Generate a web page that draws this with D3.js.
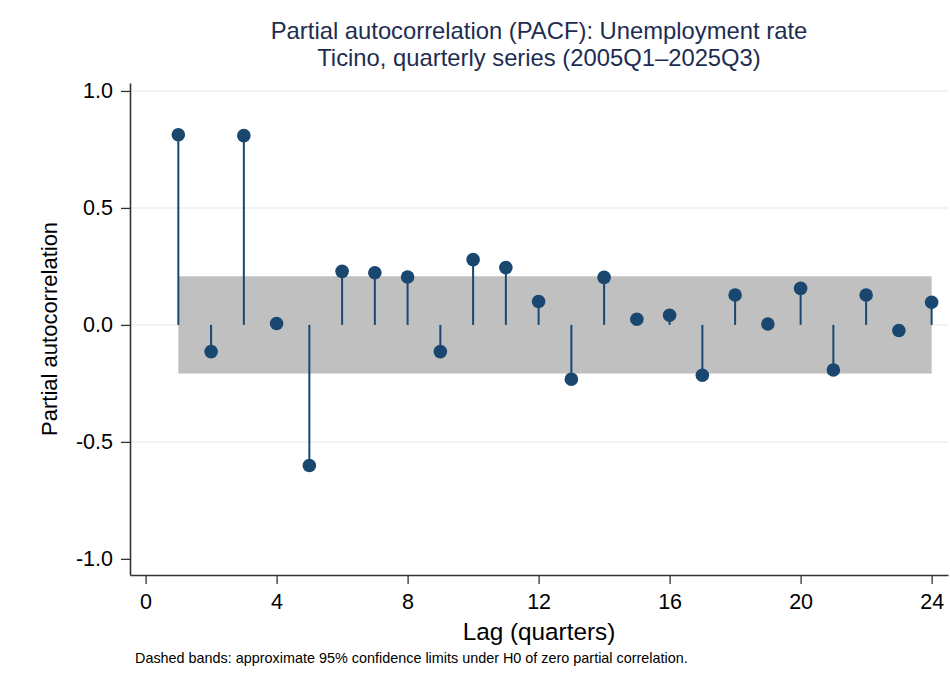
<!DOCTYPE html>
<html>
<head>
<meta charset="utf-8">
<script src="https://cdn.jsdelivr.net/npm/d3@7"></script>
<style>
  html, body { margin: 0; padding: 0; background: #ffffff; }
  svg { display: block; font-family: "Liberation Sans", Arial, sans-serif; }
</style>
</head>
<body>
<svg id="chart" width="950" height="687"></svg>
<script>
// Partial autocorrelations, lags 1..24
const lags = d3.range(1, 25);
const pacf = [0.813, -0.114, 0.809, 0.006, -0.601, 0.229, 0.223, 0.205,
              -0.114, 0.279, 0.245, 0.100, -0.232, 0.203, 0.024, 0.041,
              -0.215, 0.128, 0.004, 0.156, -0.193, 0.128, -0.024, 0.097];
// 95% confidence limit (± around zero)
const confLimit = 0.208;

const xTicks = [0, 4, 8, 12, 16, 20, 24];
const yTicks = [-1.0, -0.5, 0.0, 0.5, 1.0];
const yGrid = [-0.5, 0.0, 0.5, 1.0];

const titleLines = ["Partial autocorrelation (PACF): Unemployment rate",
                    "Ticino, quarterly series (2005Q1\u20132025Q3)"];
const xTitle = "Lag (quarters)";
const yTitle = "Partial autocorrelation";
const note = "Dashed bands: approximate 95% confidence limits under H0 of zero partial correlation.";

const svg = d3.select("#chart");
const plot = { left: 130, right: 948, top: 83, bottom: 575 };

const x = d3.scaleLinear().domain([-0.476, 24.5]).range([plot.left, plot.right]);
const y = d3.scaleLinear().domain([-1.069, 1.034]).range([plot.bottom, plot.top]);

const navy = "#1a476f";

// gridlines
svg.append("g").selectAll("line").data(yGrid).join("line")
  .attr("x1", plot.left).attr("x2", plot.right)
  .attr("y1", d => y(d)).attr("y2", d => y(d))
  .attr("stroke", "#eaf2f3").attr("stroke-width", 1.5);

// confidence band
svg.append("rect")
  .attr("x", x(lags[0])).attr("width", x(lags[lags.length - 1]) - x(lags[0]))
  .attr("y", y(confLimit)).attr("height", y(-confLimit) - y(confLimit))
  .attr("fill", "#c0c0c0");

// stems
svg.append("g").selectAll("line").data(lags).join("line")
  .attr("x1", d => x(d)).attr("x2", d => x(d))
  .attr("y1", y(0)).attr("y2", (d, i) => y(pacf[i]))
  .attr("stroke", navy).attr("stroke-width", 2);

// markers
svg.append("g").selectAll("circle").data(lags).join("circle")
  .attr("cx", d => x(d)).attr("cy", (d, i) => y(pacf[i]))
  .attr("r", 6.8).attr("fill", navy);

// axes
const yAxis = d3.axisLeft(y).tickValues(yTicks).tickFormat(d3.format(".1f"))
  .tickSize(9).tickPadding(8).tickSizeOuter(0);
const gy = svg.append("g").attr("transform", `translate(${plot.left},0)`).call(yAxis);
gy.select(".domain").attr("stroke", "#333").attr("stroke-width", 1.6);
gy.selectAll(".tick line").attr("stroke", "#333").attr("stroke-width", 1.3);
gy.selectAll(".tick text").attr("font-size", 21.5).attr("fill", "#000")
  .attr("font-family", "'Liberation Sans', Arial, sans-serif")
  .text(d => d3.format(".1f")(d).replace("\u2212", "-"));

const xAxis = d3.axisBottom(x).tickValues(xTicks).tickFormat(d3.format("d"))
  .tickSize(9).tickPadding(10).tickSizeOuter(0);
const gx = svg.append("g").attr("transform", `translate(0,${plot.bottom})`).call(xAxis);
gx.select(".domain").attr("stroke", "#333").attr("stroke-width", 1.6);
gx.selectAll(".tick line").attr("stroke", "#333").attr("stroke-width", 1.3);
gx.selectAll(".tick text").attr("font-size", 21.5).attr("fill", "#000")
  .attr("font-family", "'Liberation Sans', Arial, sans-serif");

// titles
svg.append("g").selectAll("text").data(titleLines).join("text")
  .attr("x", (plot.left + plot.right) / 2).attr("y", (d, i) => 39 + i * 26.5)
  .attr("text-anchor", "middle").attr("font-size", 23.8).attr("fill", "#1e2d4f")
  .text(d => d);

svg.append("text")
  .attr("x", (plot.left + plot.right) / 2).attr("y", 640)
  .attr("text-anchor", "middle").attr("font-size", 24.3).attr("fill", "#000")
  .text(xTitle);

svg.append("text")
  .attr("transform", `translate(57,${y(0) + 4}) rotate(-90)`)
  .attr("text-anchor", "middle").attr("font-size", 22).attr("fill", "#000")
  .text(yTitle);

svg.append("text")
  .attr("x", 135).attr("y", 663)
  .attr("font-size", 14.4).attr("fill", "#000")
  .text(note);
</script>
</body>
</html>
